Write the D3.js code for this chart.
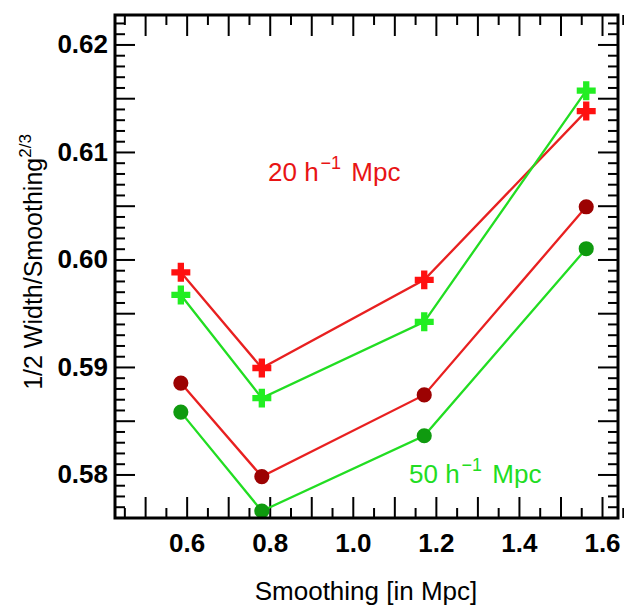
<!DOCTYPE html>
<html><head><meta charset="utf-8">
<script src="https://cdn.jsdelivr.net/npm/d3@7"></script>
<style>body{margin:0;background:#fff}svg{display:block}text{font-family:"Liberation Sans",Arial,Helvetica,sans-serif}</style>
</head><body>
<script>
const smoothing = [0.586, 0.781, 1.172, 1.562];
const cross20 = [0.5988, 0.5899, 0.5981, 0.6138];
const cross50 = [0.5967, 0.5871, 0.5942, 0.6157];
const circ20 = [0.5885, 0.5798, 0.5874, 0.6049];
const circ50 = [0.5858, 0.5766, 0.5836, 0.6010];
const xTickLabels = [0.6, 0.8, 1.0, 1.2, 1.4, 1.6];
const yTickLabels = [0.58, 0.59, 0.60, 0.61, 0.62];

const W = 624, H = 607;
const L = 115, R = 618, T = 15, B = 518;
const svg = d3.select("body").append("svg").attr("width", W).attr("height", H);
const x = d3.scaleLinear().domain([0.4275, 1.6385]).range([L, R]);
const y = d3.scaleLinear().domain([0.57595, 0.62274]).range([B, T]);

const rng = (a, b, s) => d3.range(Math.round((b - a) / s) + 1).map(i => +(a + i * s).toFixed(4));
const xMajor = rng(0.5, 1.6, 0.1), xMinor = rng(0.45, 1.6, 0.1);
const yMajor = rng(0.58, 0.62, 0.005), yMinor = rng(0.576, 0.622, 0.001).filter(v => !yMajor.some(m => Math.abs(m - v) < 1e-6));

function styleAxis(g) {
  g.select(".domain").remove();
  g.selectAll(".tick line").attr("stroke", "#000").attr("stroke-width", 2);
  g.selectAll(".tick text").attr("font-size", 26).attr("font-weight", "bold").attr("fill", "#000")
    .style("font-family", '"Liberation Sans",Arial,sans-serif');
}
const isLab = (arr) => (d) => arr.some(v => Math.abs(v - d) < 1e-6);

// bottom
svg.append("g").attr("transform", `translate(0,${B})`)
  .call(d3.axisBottom(x).tickValues(xMajor).tickSize(-21).tickPadding(16)
    .tickFormat(d => isLab(xTickLabels)(d) ? d3.format(".1f")(d) : "")).call(styleAxis);
svg.append("g").attr("transform", `translate(0,${B})`)
  .call(d3.axisBottom(x).tickValues(xMinor).tickSize(-10).tickFormat("")).call(styleAxis);
// top
svg.append("g").attr("transform", `translate(0,${T})`)
  .call(d3.axisTop(x).tickValues(xMajor).tickSize(-21).tickFormat("")).call(styleAxis);
svg.append("g").attr("transform", `translate(0,${T})`)
  .call(d3.axisTop(x).tickValues(xMinor).tickSize(-10).tickFormat("")).call(styleAxis);
// left
svg.append("g").attr("transform", `translate(${L},0)`)
  .call(d3.axisLeft(y).tickValues(yMajor).tickSize(-20).tickPadding(7)
    .tickFormat(d => isLab(yTickLabels)(d) ? d3.format(".2f")(d) : "")).call(styleAxis);
svg.append("g").attr("transform", `translate(${L},0)`)
  .call(d3.axisLeft(y).tickValues(yMinor).tickSize(-10).tickFormat("")).call(styleAxis);
// right
svg.append("g").attr("transform", `translate(${R},0)`)
  .call(d3.axisRight(y).tickValues(yMajor).tickSize(-20).tickFormat("")).call(styleAxis);
svg.append("g").attr("transform", `translate(${R},0)`)
  .call(d3.axisRight(y).tickValues(yMinor).tickSize(-10).tickFormat("")).call(styleAxis);

const plot = svg.append("g");
const line = d3.line().x((d, i) => x(smoothing[i])).y(d => y(d));
const series = [
  {vals: cross20, line: "#e82020", mark: "#ff1010", sym: d3.symbolCross, size: 200},
  {vals: cross50, line: "#22dd22", mark: "#22ee22", sym: d3.symbolCross, size: 200},
  {vals: circ20, line: "#e82020", mark: "#9c0202", sym: d3.symbolCircle, size: 180},
  {vals: circ50, line: "#22dd22", mark: "#0f9a0f", sym: d3.symbolCircle, size: 180}
];
series.forEach(s => {
  plot.append("path").attr("d", line(s.vals)).attr("fill", "none").attr("stroke", s.line).attr("stroke-width", 2.3);
});
series.forEach(s => {
  plot.selectAll(null).data(s.vals).enter().append("path")
    .attr("transform", (d, i) => `translate(${x(smoothing[i])},${y(d)})`)
    .attr("d", d3.symbol().type(s.sym).size(s.size)).attr("fill", s.mark);
});

// frame
svg.append("rect").attr("x", L).attr("y", T).attr("width", R - L).attr("height", B - T)
  .attr("fill", "none").attr("stroke", "#000").attr("stroke-width", 3);

// annotations
function label(txt, sup, tail, px, py, color) {
  const t = svg.append("text").attr("x", px).attr("y", py).attr("fill", color).attr("font-size", 26);
  t.append("tspan").text(txt);
  t.append("tspan").attr("font-size", 18).attr("dx", 2).attr("dy", -12).text(sup);
  t.append("tspan").attr("dy", 12).attr("dx", 3).text(tail);
}
label("20 h", "\u22121", " Mpc", 268, 181, "#e81414");
label("50 h", "\u22121", " Mpc", 409, 483, "#22dd22");

// axis titles
svg.append("text").attr("x", 366).attr("y", 600).attr("text-anchor", "middle")
  .attr("font-size", 26).attr("fill", "#000").text("Smoothing [in Mpc]");
const yt = svg.append("text").attr("transform", "translate(42,262) rotate(-90)")
  .attr("text-anchor", "middle").attr("font-size", 25).attr("fill", "#000");
yt.append("tspan").text("1/2 Width/Smoothing");
yt.append("tspan").attr("font-size", 17).attr("dy", -11).text("2/3");
</script>
</body></html>
